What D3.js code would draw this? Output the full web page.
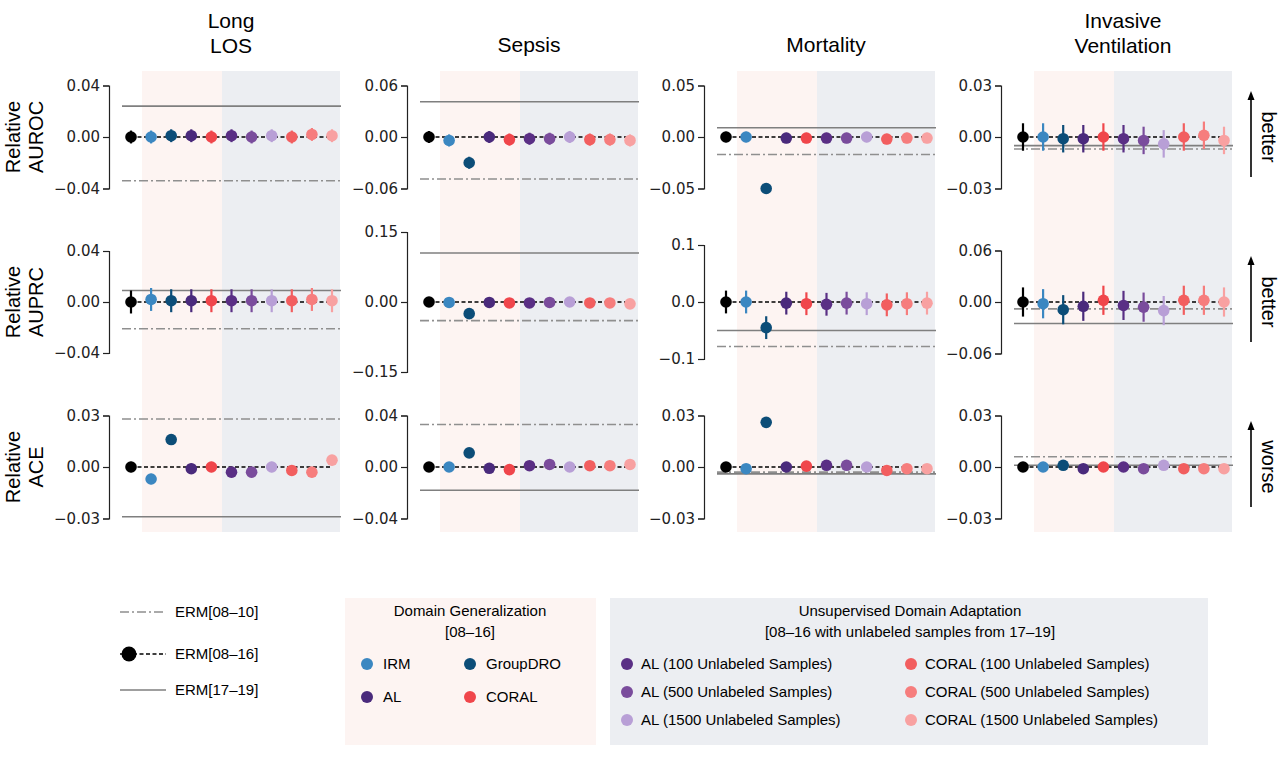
<!DOCTYPE html>
<html><head><meta charset="utf-8">
<script src="https://cdn.jsdelivr.net/npm/d3@7"></script>
<style>body{margin:0;background:#fff}</style>
</head><body>
<svg id="chart" width="1280" height="761"></svg>
<script>
// methods, in plotting order
const methods = ['ERM[08–16]', 'IRM', 'GroupDRO', 'AL', 'CORAL',
  'AL (100 Unlabeled Samples)', 'AL (500 Unlabeled Samples)', 'AL (1500 Unlabeled Samples)',
  'CORAL (100 Unlabeled Samples)', 'CORAL (500 Unlabeled Samples)', 'CORAL (1500 Unlabeled Samples)'];
const colors = ['#000000', '#3b87c1', '#0c4d78', '#4a2a7c', '#f0464b',
  '#5a2f85', '#7a4c9c', '#b89fd6', '#f25e5f', '#f67d7d', '#f8a1a1'];

const tasks = ['Long\nLOS', 'Sepsis', 'Mortality', 'Invasive\nVentilation'];
const metrics = ['Relative\nAUROC', 'Relative\nAUPRC', 'Relative\nACE'];

// axis limit (symmetric) for each [metric][task]
const tickMax = [
  [0.04, 0.06, 0.05, 0.03],
  [0.04, 0.15, 0.1, 0.06],
  [0.03, 0.04, 0.03, 0.03]
];
const tickDigits = [[2, 2, 2, 2], [2, 2, 1, 2], [2, 2, 2, 2]];

// point values [metric][task][method]
const values = [
  [
    [0, 0, 0.001, 0.001, 0, 0.001, 0, 0.001, 0, 0.002, 0.001],
    [0, -0.004, -0.03, 0, -0.003, -0.002, -0.002, 0, -0.003, -0.003, -0.004],
    [0, 0, -0.05, -0.001, -0.001, -0.001, -0.001, 0, -0.002, -0.001, -0.001],
    [0, 0, -0.001, -0.001, 0, -0.001, -0.002, -0.004, 0, 0.001, -0.002]
  ],
  [
    [0, 0.002, 0.001, 0.001, 0.001, 0.001, 0.001, 0.001, 0.001, 0.002, 0.001],
    [0, -0.001, -0.025, -0.001, -0.002, -0.002, -0.001, 0, -0.002, -0.002, -0.004],
    [0, 0, -0.045, -0.002, -0.003, -0.004, -0.002, -0.003, -0.005, -0.003, -0.002],
    [0, -0.002, -0.009, -0.005, 0.002, -0.004, -0.006, -0.01, 0.002, 0.002, 0]
  ],
  [
    [0, -0.007, 0.016, -0.001, 0, -0.003, -0.003, 0, -0.002, -0.003, 0.004],
    [0, 0, 0.011, -0.001, -0.002, 0.001, 0.002, 0, 0.001, 0.001, 0.002],
    [0, -0.001, 0.026, 0, 0.0005, 0.001, 0.001, 0, -0.002, -0.001, -0.001],
    [0, 0, 0.001, -0.001, 0, 0, -0.001, 0.001, -0.001, -0.001, -0.001]
  ]
];
// error bar half-widths [metric][task]
const errs = [
  [0.005, 0.007, 0.005, 0.008],
  [0.009, 0.003, 0.02, 0.017],
  [0.003, 0.0015, 0.0015, 0.001]
];
// ERM[17-19] (solid) and ERM[08-10] (dash-dot) reference lines
const erm1719 = [
  [0.024, 0.041, 0.009, -0.005],
  [0.009, 0.105, -0.05, -0.025],
  [-0.029, -0.018, -0.004, 0.001]
];
const erm0810 = [
  [-0.034, -0.049, -0.017, -0.007],
  [-0.021, -0.04, -0.078, -0.008],
  [0.028, 0.033, -0.003, 0.006]
];

const svg = d3.select('#chart');
const axisX = [109, 407, 704, 1001];
const rowZero = [137, 302, 467];
const halfPx = [[51.5, 51.5, 51.5, 51.5], [51, 70, 57, 51.5], [51.5, 51.5, 51.5, 51.5]];
const tickFont = 'DejaVu Sans, sans-serif';
const labFont = 'Liberation Sans, Arial, sans-serif';

// shaded background regions
axisX.forEach(ax => {
  const x0 = ax + 22;
  svg.append('rect').attr('x', x0 + 11).attr('y', 71).attr('width', 80).attr('height', 461).attr('fill', '#fdf4f2');
  svg.append('rect').attr('x', x0 + 91).attr('y', 71).attr('width', 118).attr('height', 461).attr('fill', '#eceef2');
});

// column titles
tasks.forEach((t, j) => {
  const cx = axisX[j] + 22 + 100;
  const lines = t.split('\n');
  lines.forEach((l, k) => {
    svg.append('text').attr('x', cx).attr('y', (lines.length === 1 ? 52 : 28) + k * 25)
      .attr('text-anchor', 'middle').attr('font-family', labFont).attr('font-size', 21).text(l);
  });
});

// row labels
metrics.forEach((m, i) => {
  const g = svg.append('g').attr('transform', `translate(24,${rowZero[i]}) rotate(-90)`);
  m.split('\n').forEach((l, k) => {
    g.append('text').attr('x', 0).attr('y', -4 + k * 23).attr('text-anchor', 'middle')
      .attr('font-family', labFont).attr('font-size', 20).text(l);
  });
});

metrics.forEach((m, i) => {
  tasks.forEach((t, j) => {
    const ax = axisX[j];
    const mx = tickMax[i][j];
    const y = d3.scaleLinear().domain([-mx, mx]).range([rowZero[i] + halfPx[i][j], rowZero[i] - halfPx[i][j]]);
    const x = d3.scaleLinear().domain([0, methods.length - 1]).range([ax + 22, ax + 223]);
    const g = svg.append('g');

    const fmt = d3.format(`.${tickDigits[i][j]}f`);
    const yAxis = g.append('g').attr('transform', `translate(${ax},0)`)
      .call(d3.axisLeft(y).tickValues([-mx, 0, mx]).tickSize(6)
        .tickFormat(v => v === 0 ? fmt(0) : fmt(v).replace('-', '−')));
    yAxis.selectAll('text').attr('font-family', tickFont).attr('font-size', 15).attr('fill', '#222');
    yAxis.selectAll('line,path').attr('stroke', '#222').attr('stroke-width', 1.2);

    const lx0 = ax + 13, lx1 = ax + 232;
    g.append('line').attr('x1', lx0).attr('x2', lx1).attr('y1', y(erm1719[i][j])).attr('y2', y(erm1719[i][j]))
      .attr('stroke', '#7f7f7f').attr('stroke-width', 1.6);
    g.append('line').attr('x1', lx0).attr('x2', lx1).attr('y1', y(erm0810[i][j])).attr('y2', y(erm0810[i][j]))
      .attr('stroke', '#8f8f8f').attr('stroke-width', 1.6).attr('stroke-dasharray', '9,3,2,3');
    g.append('line').attr('x1', x(0)).attr('x2', x(methods.length - 1)).attr('y1', y(0)).attr('y2', y(0))
      .attr('stroke', '#000').attr('stroke-width', 1.4).attr('stroke-dasharray', '4,2.5');

    const vals = values[i][j];
    const e = errs[i][j];
    vals.forEach((v, k) => {
      g.append('line').attr('x1', x(k)).attr('x2', x(k)).attr('y1', y(v - e)).attr('y2', y(v + e))
        .attr('stroke', colors[k]).attr('stroke-width', 2.2);
      g.append('circle').attr('cx', x(k)).attr('cy', y(v)).attr('r', 5.8).attr('fill', colors[k]);
    });
  });
});

// better / worse arrows
['better', 'better', 'worse'].forEach((w, i) => {
  const ax = 1251;
  svg.append('line').attr('x1', ax).attr('x2', ax).attr('y1', rowZero[i] + 40).attr('y2', rowZero[i] - 40)
    .attr('stroke', '#000').attr('stroke-width', 1.6);
  svg.append('path').attr('d', `M${ax - 3.5},${rowZero[i] - 37} L${ax},${rowZero[i] - 46} L${ax + 3.5},${rowZero[i] - 37} Z`).attr('fill', '#000');
  svg.append('text').attr('transform', `translate(1262,${rowZero[i]}) rotate(90)`).attr('text-anchor', 'middle')
    .attr('font-family', labFont).attr('font-size', 20).text(w);
});

// legend: reference lines
const lf = 15;
const legRef = [['ERM[08–10]', 'dashdot', 612], ['ERM[08–16]', 'dot', 654], ['ERM[17–19]', 'solid', 690]];
legRef.forEach(([lab, kind, ly]) => {
  const ln = svg.append('line').attr('x1', 120).attr('x2', 166).attr('y1', ly).attr('y2', ly);
  if (kind === 'dashdot') ln.attr('stroke', '#8f8f8f').attr('stroke-width', 1.6).attr('stroke-dasharray', '9,3,2,3');
  else if (kind === 'solid') ln.attr('stroke', '#7f7f7f').attr('stroke-width', 1.6);
  else {
    ln.attr('stroke', '#000').attr('stroke-width', 1.6).attr('stroke-dasharray', '4,2.5');
    svg.append('circle').attr('cx', 129).attr('cy', ly).attr('r', 7.5).attr('fill', '#000');
  }
  svg.append('text').attr('x', 175).attr('y', ly + 5).attr('font-family', labFont).attr('font-size', lf).text(lab);
});

// legend: domain generalization
svg.append('rect').attr('x', 345).attr('y', 598).attr('width', 251).attr('height', 147).attr('fill', '#fdf4f2');
['Domain Generalization', '[08–16]'].forEach((l, k) => svg.append('text').attr('x', 470).attr('y', 616 + k * 21)
  .attr('text-anchor', 'middle').attr('font-family', labFont).attr('font-size', lf).text(l));
[[1, 367, 664], [2, 470, 664], [3, 367, 697], [4, 470, 697]].forEach(([k, lx, ly]) => {
  svg.append('circle').attr('cx', lx).attr('cy', ly).attr('r', 6).attr('fill', colors[k]);
  svg.append('text').attr('x', lx + 16).attr('y', ly + 5).attr('font-family', labFont).attr('font-size', lf).text(methods[k]);
});

// legend: unsupervised domain adaptation
svg.append('rect').attr('x', 610).attr('y', 598).attr('width', 598).attr('height', 147).attr('fill', '#eceef2');
['Unsupervised Domain Adaptation', '[08–16 with unlabeled samples from 17–19]'].forEach((l, k) => svg.append('text')
  .attr('x', 910).attr('y', 616 + k * 21).attr('text-anchor', 'middle').attr('font-family', labFont).attr('font-size', lf).text(l));
d3.range(5, 11).forEach(k => {
  const col = k < 8 ? 0 : 1;
  const lx = col ? 911 : 627, ly = 664 + ((k - 5) % 3) * 28;
  svg.append('circle').attr('cx', lx).attr('cy', ly).attr('r', 6).attr('fill', colors[k]);
  svg.append('text').attr('x', lx + 14).attr('y', ly + 5).attr('font-family', labFont).attr('font-size', lf).text(methods[k]);
});
</script>
</body></html>
